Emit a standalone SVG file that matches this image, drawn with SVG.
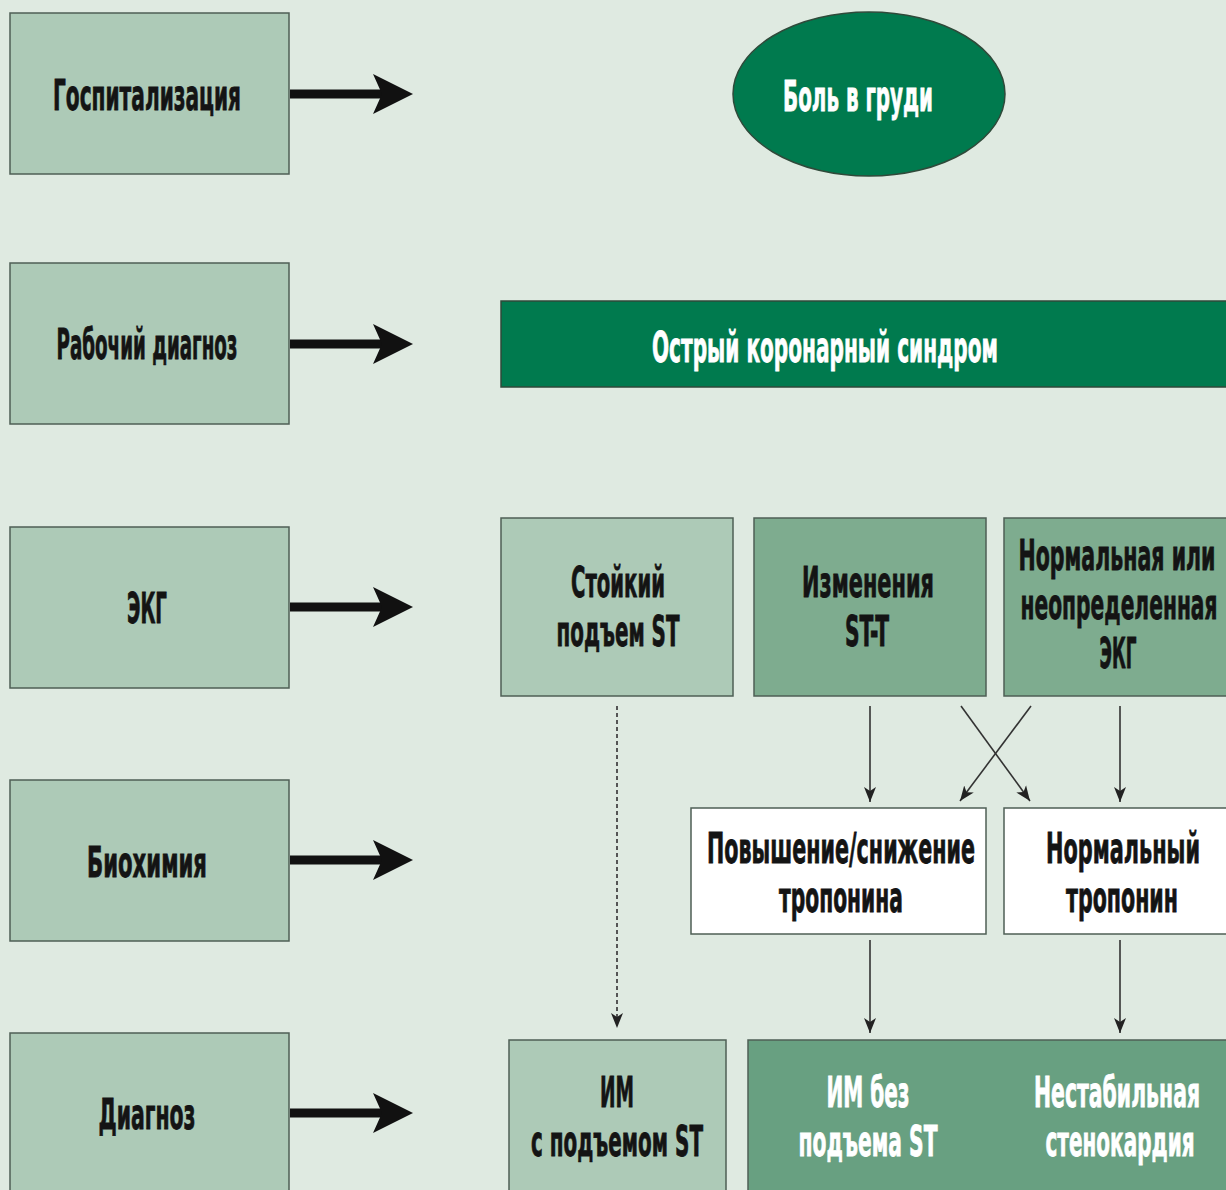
<svg xmlns="http://www.w3.org/2000/svg" width="1226" height="1190" viewBox="0 0 1226 1190">
<defs>
<style>
.t{font-family:"DejaVu Sans Condensed","DejaVu Sans","Liberation Sans",sans-serif;font-stretch:condensed;font-weight:bold;font-size:42px;text-anchor:middle;fill:#141414;stroke:#141414;stroke-width:0.8}
.w{fill:#ffffff;stroke:#ffffff}
.lab{fill:#adcab7;stroke:#4f5f55;stroke-width:1.5}
.mid{fill:#7eac8f;stroke:#4f5f55;stroke-width:1.5}
.dg{fill:#68a081;stroke:#4f5f55;stroke-width:1.5}
.wh{fill:#ffffff;stroke:#4f5f55;stroke-width:1.5}
.dk{fill:#007a4e;stroke:#2f4a3a;stroke-width:1.5}
.big{stroke:#111;stroke-width:9;fill:none}
.thin{stroke:#333;stroke-width:1.6;fill:none}
.dash{stroke:#555;stroke-width:2;fill:none;stroke-dasharray:4 3}
</style>
<marker id="bh" viewBox="-13 -21 42 42" refX="0" refY="0" markerWidth="42" markerHeight="42" markerUnits="userSpaceOnUse" orient="auto">
<path d="M28,0 L-12,-20 L-3,0 L-12,20 Z" fill="#111"/>
</marker>
<marker id="sh" viewBox="-15 -7 16 14" refX="0" refY="0" markerWidth="16" markerHeight="14" markerUnits="userSpaceOnUse" orient="auto">
<path d="M0,0 L-15,-6 L-11,0 L-15,6 Z" fill="#222"/>
</marker>
</defs>
<rect width="1226" height="1190" fill="#dfeae1"/>

<g id="n-hosp"><rect class="lab" x="10" y="13" width="279" height="161"/><text class="t" x="147" y="110" textLength="188" lengthAdjust="spacingAndGlyphs">Госпитализация</text></g>
<g id="n-work"><rect class="lab" x="10" y="263" width="279" height="161"/><text class="t" x="147" y="359" textLength="181" lengthAdjust="spacingAndGlyphs">Рабочий диагноз</text></g>
<g id="n-ecg"><rect class="lab" x="10" y="527" width="279" height="161"/><text class="t" x="147" y="623" textLength="40" lengthAdjust="spacingAndGlyphs">ЭКГ</text></g>
<g id="n-bio"><rect class="lab" x="10" y="780" width="279" height="161"/><text class="t" x="147" y="877" textLength="120" lengthAdjust="spacingAndGlyphs">Биохимия</text></g>
<g id="n-diag"><rect class="lab" x="10" y="1033" width="279" height="170"/><text class="t" x="147" y="1129" textLength="97" lengthAdjust="spacingAndGlyphs">Диагноз</text></g>

<g id="n-pain"><ellipse class="dk" cx="869" cy="94" rx="136" ry="82"/><text class="t w" x="858" y="111" textLength="150" lengthAdjust="spacingAndGlyphs">Боль в груди</text></g>
<g id="n-acs"><rect class="dk" x="501" y="301" width="735" height="86"/><text class="t w" x="825" y="362" textLength="346" lengthAdjust="spacingAndGlyphs">Острый коронарный синдром</text></g>

<g id="n-ste"><rect class="lab" x="501" y="518" width="232" height="178"/><text class="t" x="618" y="597" textLength="94" lengthAdjust="spacingAndGlyphs">Стойкий</text><text class="t" x="618" y="646" textLength="123" lengthAdjust="spacingAndGlyphs">подъем ST</text></g>
<g id="n-stt"><rect class="mid" x="754" y="518" width="232" height="178"/><text class="t" x="868" y="597" textLength="132" lengthAdjust="spacingAndGlyphs">Изменения</text><text class="t" x="867" y="646" textLength="44" lengthAdjust="spacingAndGlyphs">ST-T</text></g>
<g id="n-norm"><rect class="mid" x="1004" y="518" width="232" height="178"/><text class="t" x="1117" y="570" textLength="197" lengthAdjust="spacingAndGlyphs">Нормальная или</text><text class="t" x="1119" y="619" textLength="197" lengthAdjust="spacingAndGlyphs">неопределенная</text><text class="t" x="1118" y="668" textLength="37" lengthAdjust="spacingAndGlyphs">ЭКГ</text></g>

<g id="n-trop-up"><rect class="wh" x="691" y="808" width="295" height="126"/><text class="t" x="841" y="863" textLength="268" lengthAdjust="spacingAndGlyphs">Повышение/снижение</text><text class="t" x="841" y="912" textLength="124" lengthAdjust="spacingAndGlyphs">тропонина</text></g>
<g id="n-trop-norm"><rect class="wh" x="1004" y="808" width="232" height="126"/><text class="t" x="1123" y="863" textLength="154" lengthAdjust="spacingAndGlyphs">Нормальный</text><text class="t" x="1122" y="912" textLength="112" lengthAdjust="spacingAndGlyphs">тропонин</text></g>

<g id="n-stemi"><rect class="lab" x="509" y="1040" width="217" height="160"/><text class="t" x="617" y="1107" textLength="34" lengthAdjust="spacingAndGlyphs">ИМ</text><text class="t" x="617" y="1156" textLength="172" lengthAdjust="spacingAndGlyphs">с подъемом ST</text></g>
<g id="n-nste"><rect class="dg" x="748" y="1040" width="488" height="160"/><text class="t w" x="868" y="1107" textLength="83" lengthAdjust="spacingAndGlyphs">ИМ без</text><text class="t w" x="868" y="1156" textLength="139" lengthAdjust="spacingAndGlyphs">подъема ST</text><text class="t w" x="1117" y="1107" textLength="166" lengthAdjust="spacingAndGlyphs">Нестабильная</text><text class="t w" x="1120" y="1156" textLength="149" lengthAdjust="spacingAndGlyphs">стенокардия</text></g>

<g id="connectors">
<line class="big" x1="290" y1="94" x2="385" y2="94" marker-end="url(#bh)"/>
<line class="big" x1="290" y1="344" x2="385" y2="344" marker-end="url(#bh)"/>
<line class="big" x1="290" y1="607" x2="385" y2="607" marker-end="url(#bh)"/>
<line class="big" x1="290" y1="860" x2="385" y2="860" marker-end="url(#bh)"/>
<line class="big" x1="290" y1="1113" x2="385" y2="1113" marker-end="url(#bh)"/>
<line class="dash" x1="617" y1="706" x2="617" y2="1028" marker-end="url(#sh)"/>
<line class="thin" x1="870" y1="706" x2="870" y2="802" marker-end="url(#sh)"/>
<line class="thin" x1="1120" y1="706" x2="1120" y2="802" marker-end="url(#sh)"/>
<line class="thin" x1="961" y1="706" x2="1030" y2="801" marker-end="url(#sh)"/>
<line class="thin" x1="1031" y1="706" x2="960" y2="801" marker-end="url(#sh)"/>
<line class="thin" x1="870" y1="940" x2="870" y2="1033" marker-end="url(#sh)"/>
<line class="thin" x1="1120" y1="940" x2="1120" y2="1033" marker-end="url(#sh)"/>
</g>
</svg>
